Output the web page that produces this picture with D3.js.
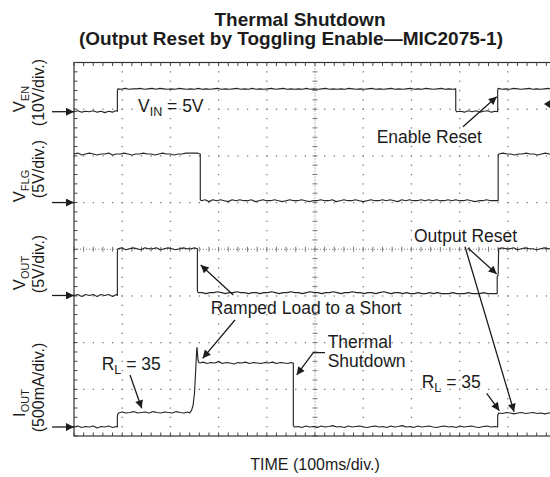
<!DOCTYPE html>
<html><head><meta charset="utf-8">
<script src="https://cdn.jsdelivr.net/npm/d3@7"></script>
<style>html,body{margin:0;padding:0;background:#fff}svg{display:block;font-family:"Liberation Sans",Arial,sans-serif}</style>
</head><body><div id="chart"></div>
<script>
// ---- DATA ----
const titleLines = ["Thermal Shutdown", "(Output Reset by Toggling Enable\u2014MIC2075-1)"];
const xAxisLabel = "TIME (100ms/div.)";
const timeDomain = [0, 1000];        // ms, 100 ms/div
const divDomain = [-4, 4];           // vertical divisions
const channels = ["EN", "FLG", "OUT", "IOUT"];
const channelPerDiv = [10, 5, 5, 500];            // V/div, V/div, V/div, mA/div
const channelGround = [2.946, 1.0, -0.99, -3.807]; // ground marker, in divisions
const vEnTrace = [
[0,0.0],[8,0.2],[16,-0.1],[24,0.1],[32,0.0],[40,0.2],[48,-0.1],[56,0.1],[64,-0.2],[72,0.1],[80,-0.1],[86,0.2],[90,0.1],
[90,4.5],[91,4.9],[98,4.8],[106,5.0],[114,4.8],[122,4.9],[130,4.9],[138,5.0],[146,4.8],[154,4.9],[162,5.0],[170,4.8],[178,5.0],[186,4.9],[194,4.8],[202,4.9],[210,4.8],[218,5.0],[226,4.9],[234,4.8],[242,4.9],[250,4.8],[258,5.0],[266,4.8],[274,4.9],[282,4.8],[290,4.9],[298,5.0],[306,4.8],[314,4.9],[322,4.8],[330,4.9],[338,5.0],[346,4.8],[354,4.9],[362,4.8],[370,5.0],[378,4.8],[386,4.9],[394,4.8],[402,4.9],[410,5.0],[418,4.8],[426,4.9],[434,5.0],[442,4.8],[450,4.9],[458,4.8],[466,4.9],[474,4.8],[482,5.0],[490,4.8],[498,4.9],[506,4.8],[514,4.9],[522,5.0],[530,4.8],[538,4.9],[546,4.8],[554,4.9],[562,4.8],[570,5.0],[578,4.9],[586,4.8],[594,4.9],[602,4.8],[610,4.9],[618,5.0],[626,4.8],[634,4.9],[642,4.8],[650,4.9],[658,5.0],[666,4.8],[674,4.9],[682,4.8],[690,4.9],[698,5.0],[706,4.8],[714,4.9],[722,4.8],[730,5.0],[738,4.9],[746,4.8],[754,4.9],[762,5.0],[770,4.8],[778,4.9],[786,4.8],[792,4.9],
[792,0.3],[794,0.0],[802,0.1],[810,-0.1],[818,0.2],[826,0.0],[834,0.2],[842,-0.1],[850,0.1],[858,0.2],[866,-0.1],[874,0.1],[879,0.0],
[879,4.6],[880,5.0],[888,4.8],[896,4.9],[904,4.8],[912,5.0],[920,4.9],[928,4.8],[936,4.9],[944,5.0],[952,4.8],[960,4.9],[968,4.8],[976,4.9],[984,5.0],[992,4.8],[1000,4.9]
];
const vFlgTrace = [
[0,5.2],[8,5.3],[16,5.1],[24,5.2],[32,5.3],[40,5.2],[48,5.1],[56,5.2],[64,5.2],[72,5.3],[80,5.1],[88,5.2],[96,5.2],[104,5.3],[112,5.2],[120,5.1],[128,5.2],[136,5.2],[144,5.3],[152,5.2],[160,5.2],[168,5.1],[176,5.2],[184,5.3],[192,5.2],[200,5.2],[208,5.1],[216,5.2],[224,5.2],[232,5.3],[240,5.3],[248,5.3],[256,5.3],[262,5.2],
[262,0.3],[264,0.2],[272,0.3],[280,0.1],[288,0.3],[296,0.2],[304,0.3],[312,0.2],[320,0.1],[328,0.3],[336,0.2],[344,0.3],[352,0.2],[360,0.2],[368,0.3],[376,0.1],[384,0.2],[392,0.3],[400,0.2],[408,0.2],[416,0.3],[424,0.2],[432,0.1],[440,0.2],[448,0.3],[456,0.2],[464,0.2],[472,0.3],[480,0.2],[488,0.1],[496,0.2],[504,0.2],[512,0.3],[520,0.2],[528,0.2],[536,0.3],[544,0.1],[552,0.2],[560,0.3],[568,0.2],[576,0.2],[584,0.3],[592,0.2],[600,0.1],[608,0.2],[616,0.3],[624,0.2],[632,0.2],[640,0.3],[648,0.2],[656,0.3],[664,0.2],[672,0.1],[680,0.3],[688,0.2],[696,0.3],[704,0.2],[712,0.2],[720,0.3],[728,0.2],[736,0.3],[744,0.2],[752,0.3],[760,0.2],[768,0.2],[776,0.3],[784,0.2],[792,0.3],[800,0.2],[808,0.2],[816,0.3],[824,0.2],[832,0.1],[840,0.2],[848,0.2],[856,0.3],[864,0.2],[872,0.2],[880,0.2],
[880,5.1],[882,5.2],[890,5.3],[898,5.2],[906,5.2],[914,5.1],[922,5.2],[930,5.2],[938,5.3],[946,5.2],[954,5.2],[962,5.1],[970,5.2],[978,5.3],[986,5.2],[994,5.2],[1000,5.2]
];
const vOutTrace = [
[0,0.0],[8,0.1],[16,-0.1],[24,0.1],[32,0.0],[40,0.1],[48,-0.1],[56,0.1],[64,0.0],[72,0.1],[80,-0.1],[88,0.1],[90,0.0],
[90,4.6],[91,5.0],[99,5.1],[107,4.9],[115,5.0],[123,5.1],[131,5.0],[139,4.9],[147,5.1],[155,5.0],[163,5.0],[171,5.1],[179,4.9],[187,5.0],[195,5.1],[203,5.0],[211,4.9],[219,5.0],[227,5.1],[235,5.0],[243,5.0],[250,5.1],[256,5.0],
[256,0.5],[258,0.3],[266,0.3],[274,0.2],[282,0.3],[290,0.3],[298,0.4],[306,0.3],[314,0.2],[322,0.3],[330,0.3],[338,0.4],[346,0.3],[354,0.3],[362,0.2],[370,0.3],[378,0.3],[386,0.2],[394,0.3],[402,0.3],[410,0.4],[418,0.3],[426,0.2],[434,0.3],[442,0.3],[450,0.4],[458,0.3],[466,0.3],[474,0.2],[482,0.3],[490,0.4],[498,0.3],[506,0.3],[514,0.2],[522,0.3],[530,0.3],[538,0.4],[546,0.3],[554,0.2],[562,0.3],[570,0.3],[578,0.4],[586,0.3],[594,0.3],[602,0.2],[610,0.3],[618,0.3],[626,0.2],[634,0.3],[642,0.4],[650,0.3],[658,0.2],[666,0.3],[674,0.3],[682,0.2],[690,0.3],[698,0.2],[706,0.2],[714,0.3],[722,0.2],[730,0.2],[738,0.3],[746,0.2],[754,0.3],[762,0.2],[770,0.2],[778,0.2],[786,0.3],[794,0.2],[802,0.2],[810,0.2],[818,0.3],[826,0.2],[834,0.2],[842,0.2],[850,0.3],[858,0.2],[866,0.2],[874,0.2],[878,0.2],
[878,2.0],[880,2.2],[881,5.0],[888,5.1],[896,5.0],[904,5.0],[912,5.1],[920,4.9],[928,5.0],[936,5.1],[944,5.0],[952,5.0],[960,4.9],[968,5.0],[976,5.1],[984,5.0],[992,5.0],[1000,5.0]
];
const iOutTrace = [
[0,0],[8,10],[16,-5],[24,5],[32,0],[40,10],[48,-10],[56,5],[64,0],[72,10],[80,-5],[88,5],[90,0],
[90,120],[92,150],[100,160],[108,150],[116,155],[124,165],[132,150],[140,155],[148,160],[156,150],[164,165],[172,155],[180,150],[188,160],[196,155],[204,150],[212,165],[220,155],[228,150],[236,160],[240,150],
[244,180],[247,230],[250,364],[252.5,610],[254.5,825],[255.2,850],[257.3,717],[259,690],[261.4,685],[268,695],[276,680],[284,690],[292,685],[300,700],[308,680],[316,690],[324,685],[332,675],[340,690],[348,685],[356,695],[364,680],[372,690],[380,685],[388,680],[396,690],[404,685],[412,695],[420,680],[428,690],[436,685],[444,680],[450,690],[455,685],
[455,20],[457,0],[465,5],[473,-5],[481,10],[489,0],[497,5],[505,-5],[513,10],[521,0],[529,5],[537,15],[545,0],[553,5],[561,-5],[569,10],[577,0],[585,5],[593,10],[601,0],[609,-5],[617,5],[625,10],[633,0],[641,5],[649,-5],[657,10],[665,0],[673,5],[681,15],[689,0],[697,5],[705,-5],[713,10],[721,0],[729,5],[737,10],[745,0],[753,-5],[761,5],[769,10],[777,0],[785,5],[793,-5],[801,10],[809,0],[817,5],[825,10],[833,0],[841,-5],[849,5],[857,10],[865,0],[873,5],[879,0],
[879,120],[881,150],[889,145],[897,155],[905,150],[913,140],[921,150],[929,155],[937,145],[945,150],[953,155],[961,145],[969,150],[977,140],[985,150],[993,155],[1000,150]
];
const traces = [vEnTrace, vFlgTrace, vOutTrace, iOutTrace];
// axis labels: [main, subscript, unit line]
const channelLabels = [["V","EN","(10V/div.)"],["V","FLG","(5V/div.)"],["V","OUT","(5V/div.)"],["I","OUT","(500mA/div.)"]];

// ---- LAYOUT ----
const W = 550, H = 477;
const plot = {left: 74, right: 556, top: 62.5, bottom: 436};
const labelCenters = [[99, 92.5], [186, 169], [273, 264], [403, 387.5]]; // [main line, unit line] y centres
const ink = "#1c1c1c", gridCol = "#7a7a7a";

const svg = d3.select("#chart").append("svg").attr("width", W).attr("height", H);
const x = d3.scaleLinear().domain(timeDomain).range([plot.left, plot.right]);
const yDiv = d3.scaleLinear().domain(divDomain).range([plot.bottom, plot.top]);
const yCh = i => v => yDiv(channelGround[i] + v / channelPerDiv[i]);

svg.append("defs").append("marker").attr("id","ah").attr("viewBox","0 0 10 10")
  .attr("refX",10).attr("refY",5).attr("markerWidth",11).attr("markerHeight",8)
  .attr("markerUnits","userSpaceOnUse").attr("orient","auto")
  .append("path").attr("d","M0,0L10,5L0,10z").attr("fill",ink);

// title
svg.append("g").selectAll("text").data(titleLines).join("text")
  .attr("x",(d,i)=> i===0 ? 300 : 291).attr("y",(d,i)=> i===0 ? 26 : 45)
  .attr("text-anchor","middle").attr("font-size",19).attr("font-weight","bold").attr("fill",ink).text(d=>d);

// grid
const g = svg.append("g");
const minorT = d3.range(0, 1001, 20), minorD = d3.range(-4, 4.001, 0.2);
const dots = [];
[1,2,3,4,6,7,8,9].forEach(i => minorD.forEach(d => dots.push([x(i*100), yDiv(d)])));
[-3,-2,-1,1,2,3].forEach(j => minorT.forEach(t => dots.push([x(t), yDiv(j)])));
g.selectAll("rect.dot").data(dots).join("rect").attr("class","dot")
  .attr("x",d=>d[0]-0.6).attr("y",d=>d[1]-0.6).attr("width",1.3).attr("height",1.3).attr("fill",gridCol);
// centre cross
g.append("line").attr("x1",x(500)).attr("x2",x(500)).attr("y1",plot.top).attr("y2",plot.bottom)
  .attr("stroke",gridCol).attr("stroke-dasharray","1,2");
g.append("line").attr("x1",plot.left).attr("x2",plot.right).attr("y1",yDiv(0)).attr("y2",yDiv(0))
  .attr("stroke",gridCol).attr("stroke-dasharray","1,2");
g.selectAll("line.cty").data(minorD).join("line").attr("class","cty")
  .attr("x1",x(500)-2.5).attr("x2",x(500)+2.5).attr("y1",d=>yDiv(d)).attr("y2",d=>yDiv(d)).attr("stroke",gridCol);
g.selectAll("line.ctx").data(minorT).join("line").attr("class","ctx")
  .attr("x1",d=>x(d)).attr("x2",d=>x(d)).attr("y1",yDiv(0)-2.5).attr("y2",yDiv(0)+2.5).attr("stroke",gridCol);
// border + ticks
g.append("rect").attr("x",plot.left).attr("y",plot.top).attr("width",plot.right-plot.left).attr("height",plot.bottom-plot.top)
  .attr("fill","none").attr("stroke","#333").attr("stroke-width",1.2);
g.selectAll("line.tt").data(minorT).join("line").attr("class","tt")
  .attr("x1",d=>x(d)).attr("x2",d=>x(d)).attr("y1",plot.top).attr("y2",plot.top+3.5).attr("stroke","#444");
g.selectAll("line.bt").data(minorT).join("line").attr("class","bt")
  .attr("x1",d=>x(d)).attr("x2",d=>x(d)).attr("y1",plot.bottom).attr("y2",plot.bottom-3.5).attr("stroke","#444");
g.selectAll("line.lt").data(minorD).join("line").attr("class","lt")
  .attr("x1",plot.left).attr("x2",plot.left+3.5).attr("y1",d=>yDiv(d)).attr("y2",d=>yDiv(d)).attr("stroke","#444");

// traces
const tr = svg.append("g");
traces.forEach((data, i) => {
  const yy = yCh(i);
  tr.append("path").datum(data).attr("fill","none").attr("stroke","#262626").attr("stroke-width",1.15)
    .attr("stroke-linejoin","round")
    .attr("d", d3.line().x(d=>x(d[0])).y(d=>yy(d[1])));
});

// ground markers
channels.forEach((c,i) => {
  const yy = yCh(i)(0);
  svg.append("line").attr("x1",52).attr("x2",plot.left).attr("y1",yy).attr("y2",yy)
    .attr("stroke",ink).attr("stroke-width",1.3).attr("marker-end","url(#ah)");
});
// trigger marker on right edge
svg.append("path").attr("d",`M${x(975)},${yDiv(3.11)}l7,-4.5v9z`).attr("fill",ink);

// channel labels (rotated)
channelLabels.forEach((lab,i) => {
  const t1 = svg.append("text").attr("transform",`translate(25,${labelCenters[i][0]}) rotate(-90)`)
    .attr("text-anchor","middle").attr("font-size",16.5).attr("fill",ink);
  t1.append("tspan").text(lab[0]);
  t1.append("tspan").attr("dy",3.5).attr("font-size",11).text(lab[1]);
  svg.append("text").attr("transform",`translate(44,${labelCenters[i][1]}) rotate(-90)`)
    .attr("text-anchor","middle").attr("font-size",16).attr("fill",ink).text(lab[2]);
});

// x label
svg.append("text").attr("x",x(500)).attr("y",470).attr("text-anchor","middle")
  .attr("font-size",16).attr("fill",ink).text(xAxisLabel);

// annotations (positions in ms / divisions)
const ann = svg.append("g").attr("font-size",17.5).attr("fill",ink);
function label(t, d, parts){
  const el = ann.append("text").attr("x",x(t)).attr("y",yDiv(d));
  parts.forEach(p => {
    const s = el.append("tspan").text(p[0]);
    if (p[1]) s.attr("dy",p[1]);
    if (p[2]) s.attr("font-size",p[2]);
  });
}
function arrow(pts){
  ann.append("path").attr("d", d3.line().x(p=>x(p[0])).y(p=>yDiv(p[1]))(pts))
    .attr("fill","none").attr("stroke",ink).attr("stroke-width",1.3).attr("marker-end","url(#ah)");
}
label(132.8, 2.94, [["V"],["IN",4,12.5],[" = 5V",-4]]);
label(628, 2.276, [["Enable Reset"]]);
arrow([[807,2.625],[877,3.267]]);
label(705.4, 0.162, [["Output Reset"]]);
arrow([[817.4,0.027],[877,-0.53]]);
arrow([[811.2,0.055],[912.9,-3.48]]);
label(721.4, -2.97, [["R"],["L",4,12.5],[" = 35",-4]]);
arrow([[856.2,-3.085],[882.4,-3.458]]);
label(283.6, -1.387, [["Ramped Load to a Short"]]);
arrow([[330.5,-0.98],[262.9,-0.337]]);
arrow([[334,-1.515],[267,-2.336]]);
label(526.3, -2.121, [["Thermal"]]);
label(526.3, -2.516, [["Shutdown"]]);
arrow([[520.7,-2.216],[496.5,-2.216],[462,-2.693]]);
label(57.5, -2.586, [["R"],["L",4,12.5],[" = 35",-4]]);
arrow([[116.2,-2.693],[140.5,-3.407]]);
</script></body></html>
